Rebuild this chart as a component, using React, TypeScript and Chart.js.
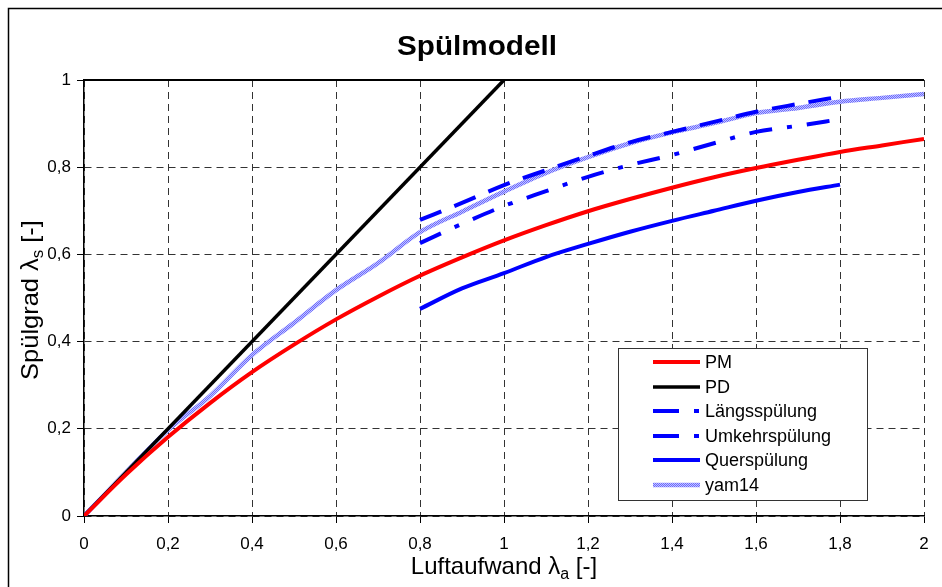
import React, { useEffect, useRef } from "react";
import { Chart, registerables } from "chart.js";

Chart.register(...registerables);

// ---------- data ----------
const TITLE = "Spülmodell";
const X_TITLE = ["Luftaufwand λ", "a", " [-]"];
const Y_TITLE = ["Spülgrad λ", "s", " [-]"];

const xFull = [0, 0.1, 0.2, 0.3, 0.4, 0.5, 0.6, 0.7, 0.8, 0.9, 1.0, 1.1, 1.2, 1.3, 1.4, 1.5, 1.6, 1.7, 1.8, 1.9, 2.0];
const pmValues = [0, 0.095, 0.181, 0.259, 0.33, 0.393, 0.451, 0.503, 0.551, 0.593, 0.632, 0.667, 0.699, 0.727, 0.753, 0.777, 0.798, 0.817, 0.835, 0.85, 0.865];

const pdX = [0, 1];
const pdValues = [0, 1];

const xSp = [0.8, 0.9, 1.0, 1.1, 1.2, 1.3, 1.4, 1.5, 1.6, 1.7, 1.8];
const laengsValues = [0.679, 0.718, 0.759, 0.793, 0.826, 0.857, 0.881, 0.904, 0.927, 0.945, 0.962];
const umkehrValues = [0.626, 0.67, 0.711, 0.745, 0.778, 0.805, 0.828, 0.855, 0.881, 0.895, 0.91];
const querValues = [0.475, 0.522, 0.557, 0.594, 0.624, 0.652, 0.677, 0.7, 0.723, 0.743, 0.76];

const yamValues = [0, 0.1, 0.197, 0.275, 0.369, 0.443, 0.518, 0.58, 0.651, 0.698, 0.744, 0.787, 0.823, 0.855, 0.88, 0.901, 0.924, 0.936, 0.95, 0.959, 0.968];

const seriesNames = ["PM", "PD", "Längsspülung", "Umkehrspülung", "Querspülung", "yam14"];

const xTicks = [0, 0.2, 0.4, 0.6, 0.8, 1, 1.2, 1.4, 1.6, 1.8, 2];
const yTicks = [0, 0.2, 0.4, 0.6, 0.8, 1];

const FONT = "'Liberation Sans', Arial, sans-serif";

const fmt = (v: number) => String(v).replace(".", ",");
const pts = (xs: number[], ys: number[]) => xs.map((x, i) => ({ x, y: ys[i] }));

function drawSubText(ctx: CanvasRenderingContext2D, parts: string[], cx: number, cy: number, size: number) {
  const subSize = Math.round(size * 0.68);
  const mainFont = `${size}px ${FONT}`;
  const subFont = `${subSize}px ${FONT}`;
  ctx.font = mainFont;
  const w0 = ctx.measureText(parts[0]).width;
  const w2 = ctx.measureText(parts[2]).width;
  ctx.font = subFont;
  const w1 = ctx.measureText(parts[1]).width;
  const total = w0 + w1 + w2;
  let x = cx - total / 2;
  ctx.textAlign = "left";
  ctx.textBaseline = "alphabetic";
  ctx.fillStyle = "#000";
  const base = cy + size * 0.35;
  ctx.font = mainFont;
  ctx.fillText(parts[0], x, base);
  x += w0;
  ctx.font = subFont;
  ctx.fillText(parts[1], x, base + size * 0.2);
  x += w1;
  ctx.font = mainFont;
  ctx.fillText(parts[2], x, base);
}

const decorPlugin = {
  id: "decor",
  beforeDraw(chart: any) {
    const ctx = chart.ctx as CanvasRenderingContext2D;
    ctx.save();
    ctx.fillStyle = "#fff";
    ctx.fillRect(0, 0, chart.width, chart.height);
    ctx.strokeStyle = "#000";
    ctx.lineWidth = 1.5;
    ctx.strokeRect(8.5, 8.5, chart.width + 20, chart.height + 20);
    ctx.restore();
  },
  afterDraw(chart: any) {
    const ctx = chart.ctx as CanvasRenderingContext2D;
    const ca = chart.chartArea;
    ctx.save();
    // top border of plot area
    ctx.strokeStyle = "#000";
    ctx.lineWidth = 2;
    ctx.setLineDash([]);
    ctx.beginPath();
    ctx.moveTo(ca.left, ca.top);
    ctx.lineTo(ca.right, ca.top);
    ctx.stroke();

    // title
    ctx.save();
    ctx.translate(477, 48);
    ctx.scale(1.1, 1);
    ctx.fillStyle = "#000";
    ctx.font = `bold 27px ${FONT}`;
    ctx.textAlign = "center";
    ctx.textBaseline = "middle";
    ctx.fillText(TITLE, 0, 0);
    ctx.restore();

    // axis titles
    drawSubText(ctx, X_TITLE, (ca.left + ca.right) / 2, 566, 24);
    ctx.save();
    ctx.translate(30, 300);
    ctx.rotate(-Math.PI / 2);
    ctx.scale(1.06, 1);
    drawSubText(ctx, Y_TITLE, 0, 0, 24);
    ctx.restore();

    // legend
    const lx = 618.5, ly = 348.5, lw = 249, lh = 152;
    ctx.fillStyle = "#fff";
    ctx.fillRect(lx, ly, lw, lh);
    ctx.strokeStyle = "#333";
    ctx.lineWidth = 1;
    ctx.strokeRect(lx, ly, lw, lh);
    const rows = [362, 387, 411, 436, 460, 485];
    chart.data.datasets.forEach((ds: any, i: number) => {
      const y = rows[i];
      ctx.save();
      ctx.strokeStyle = ds.borderColor;
      ctx.lineWidth = ds.borderWidth;
      ctx.setLineDash(ds.legendDash || []);
      ctx.beginPath();
      ctx.moveTo(653, y);
      ctx.lineTo(700, y);
      ctx.stroke();
      ctx.restore();
      ctx.fillStyle = "#000";
      ctx.font = `18px ${FONT}`;
      ctx.textAlign = "left";
      ctx.textBaseline = "middle";
      ctx.fillText(ds.label, 705, y + 1);
    });
    ctx.restore();
  },
};

export default function App() {
  const ref = useRef<HTMLCanvasElement | null>(null);

  useEffect(() => {
    if (!ref.current) return;
    const pc = document.createElement("canvas");
    pc.width = 2;
    pc.height = 2;
    const pctx = pc.getContext("2d")!;
    pctx.fillStyle = "#c4c4ff";
    pctx.fillRect(0, 0, 2, 2);
    pctx.fillStyle = "#6a6aff";
    pctx.fillRect(0, 0, 1, 1);
    pctx.fillRect(1, 1, 1, 1);
    const pattern = ref.current.getContext("2d")!.createPattern(pc, "repeat");

    const common = { pointRadius: 0, fill: false, cubicInterpolationMode: "monotone" };
    const chart = new Chart(ref.current, {
      type: "line",
      data: {
        datasets: [
          { ...common, label: seriesNames[0], data: pts(xFull, pmValues), borderColor: "#ff0000", borderWidth: 4 },
          { ...common, label: seriesNames[1], data: pts(pdX, pdValues), borderColor: "#000000", borderWidth: 3.5 },
          { ...common, label: seriesNames[2], data: pts(xSp, laengsValues), borderColor: "#0000ff", borderWidth: 4, borderDash: [23, 14], legendDash: [26, 15, 5, 15] },
          { ...common, label: seriesNames[3], data: pts(xSp, umkehrValues), borderColor: "#0000ff", borderWidth: 4, borderDash: [23, 15, 5, 15], legendDash: [26, 15, 5, 15] },
          { ...common, label: seriesNames[4], data: pts(xSp, querValues), borderColor: "#0000ff", borderWidth: 4 },
          { ...common, label: seriesNames[5], data: pts(xFull, yamValues), borderColor: pattern, borderWidth: 4.5 },
        ] as any,
      },
      options: {
        responsive: false,
        animation: false,
        layout: { padding: { left: 8, right: 18, top: 80, bottom: 0 } },
        plugins: { legend: { display: false }, title: { display: false }, tooltip: { enabled: false } },
        scales: {
          x: {
            type: "linear",
            min: 0,
            max: 2,
            afterBuildTicks: (s: any) => { s.ticks = xTicks.map((v) => ({ value: v })); },
            afterFit: (s: any) => { s.height = 71; },
            ticks: { callback: (v: any) => fmt(v), font: { size: 17, family: FONT }, color: "#000", padding: 11, maxRotation: 0, autoSkip: false },
            grid: { color: "#333", lineWidth: 1, tickLength: 7, tickColor: "#000", tickBorderDash: [], tickWidth: 1 },
            border: { display: true, color: "#000", width: 1.5, dash: [7, 5] },
          },
          y: {
            type: "linear",
            min: 0,
            max: 1,
            afterBuildTicks: (s: any) => { s.ticks = yTicks.map((v) => ({ value: v })); },
            afterFit: (s: any) => { s.width = 76; },
            ticks: { callback: (v: any) => fmt(v), font: { size: 17, family: FONT }, color: "#000", padding: 6, autoSkip: false },
            grid: { color: "#333", lineWidth: 1, tickLength: 7, tickColor: "#000", tickBorderDash: [], tickWidth: 1 },
            border: { display: true, color: "#000", width: 1.5, dash: [7, 5] },
          },
        },
      } as any,
      plugins: [decorPlugin],
    });
    return () => chart.destroy();
  }, []);

  return (
    <div style={{ position: "fixed", left: 0, top: 0, width: 942, height: 587 }}>
      <canvas ref={ref} width={942} height={587} style={{ display: "block", width: 942, height: 587 }} />
    </div>
  );
}
